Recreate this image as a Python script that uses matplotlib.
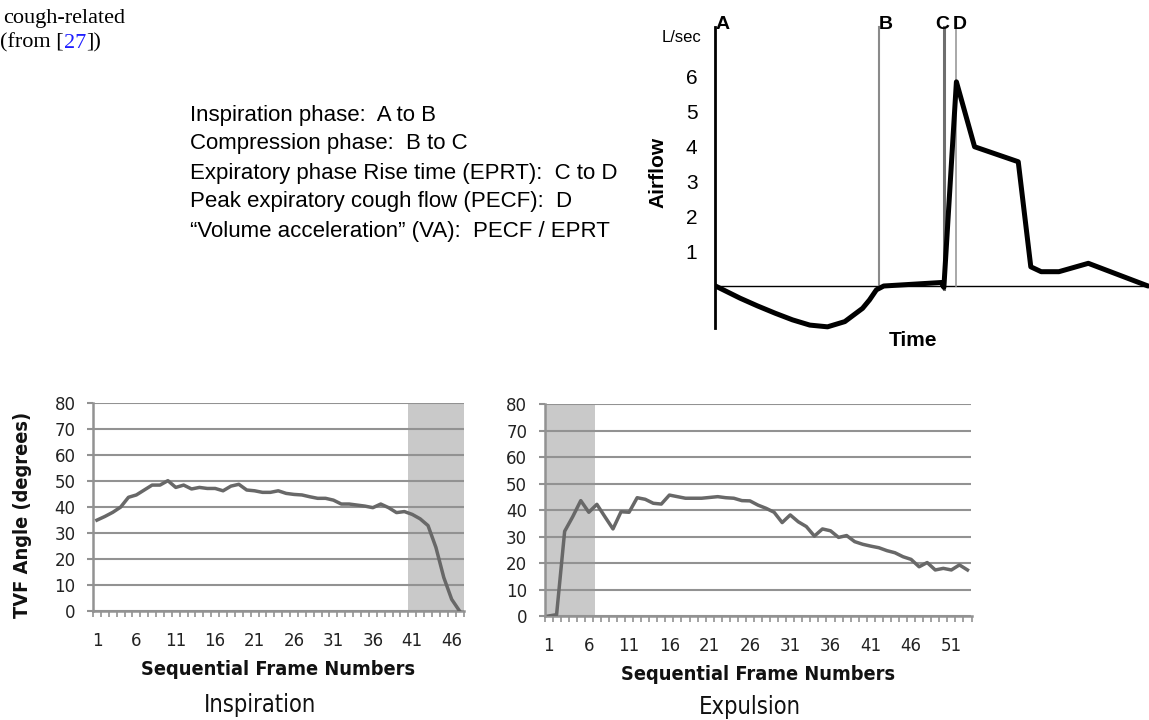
import numpy as np
import matplotlib
matplotlib.use("Agg")
import matplotlib.pyplot as plt

# 数値データ
insp_vals = [35, 36.4, 38, 40, 43.8, 44.7, 46.6, 48.5, 48.5, 50.2,
             47.6, 48.5, 47, 47.6, 47.2, 47.2, 46.3, 48.1, 48.8, 46.6,
             46.3, 45.7, 45.7, 46.3, 45.3, 44.9, 44.7, 44, 43.4, 43.4,
             42.7, 41.2, 41.2, 40.8, 40.4, 39.8, 41.2, 39.8, 37.9, 38.3,
             37.2, 35.5, 32.9, 24.5, 12.9, 4.5, 0]
expu_vals = [0, 0.5, 32, 37.5, 43.6, 39.2, 42.2, 37.5, 32.9, 39.4,
             39.2, 44.7, 44.1, 42.6, 42.3, 45.7, 45.1, 44.5, 44.5, 44.5,
             44.8, 45.1, 44.7, 44.5, 43.6, 43.5, 41.9, 40.7, 39.2, 35.3,
             38.2, 35.6, 33.8, 30.2, 32.9, 32.2, 29.7, 30.4, 28.1, 27.1,
             26.4, 25.8, 24.7, 23.9, 22.4, 21.4, 18.6, 20.2, 17.4, 18.0,
             17.4, 19.3, 17.4]
insp_shade = (40.5, 47.5)
expu_shade = (0.5, 6.8)
insp_ticks = list(range(1, 47, 5))
expu_ticks = list(range(1, 52, 5))

# 咳の気流（模式図）
flow_t = [0, 5.7, 9.7, 13.8, 17.8, 21.8, 25.9, 29.9, 34.0, 35.6, 37.2, 38.9,
          52.2, 52.8, 55.7, 59.9, 70.0, 72.9, 75.3, 79.4, 86.2, 100]
flow_v = [0, -0.35, -0.57, -0.78, -0.97, -1.12, -1.17, -1.02, -0.64, -0.40, -0.11, 0,
          0.1, -0.04, 5.85, 3.99, 3.56, 0.55, 0.41, 0.41, 0.65, 0]
phase_names = ["A", "B", "C", "D"]
phase_times = [0, 37.8, 52.8, 55.7]
flow_ticks = [1, 2, 3, 4, 5, 6]

legend_lines = [
    "Inspiration phase:  A to B",
    "Compression phase:  B to C",
    "Expiratory phase Rise time (EPRT):  C to D",
    "Peak expiratory cough flow (PECF):  D",
    "\u201cVolume acceleration\u201d (VA):  PECF / EPRT",
]

W, H = 1149, 720


def rect(x0, y0, x1, y1):
    # ピクセル座標 -> figure座標
    return [x0 / W, 1 - y1 / H, (x1 - x0) / W, (y1 - y0) / H]


fig = plt.figure(figsize=(W / 100, H / 100), dpi=100)
fig.patch.set_facecolor("white")

# 見出しテキスト
bg = fig.add_axes([0, 0, 1, 1])
bg.axis("off")
bg.set_xlim(0, W)
bg.set_ylim(H, 0)
bg.text(3, 18, "cough-related", family="Liberation Serif", fontsize=16, va="center", ha="left")
t1 = bg.text(0, 43, "(from [", family="Liberation Serif", fontsize=16, va="center", ha="left")
t2 = bg.annotate("27", xy=(1, 0), xycoords=t1, va="bottom", ha="left",
                 family="Liberation Serif", fontsize=16, color="#1f1fff")
bg.annotate("])", xy=(1, 0), xycoords=t2, va="bottom", ha="left",
            family="Liberation Serif", fontsize=16)
for i, line in enumerate(legend_lines):
    bg.text(190, 115 + 29 * i, line, family="Liberation Sans", fontsize=16,
            va="center", ha="left")

# 気流の図
ax0 = fig.add_axes(rect(715.5, 15, 1149, 355))
ax0.set_xlim(0, (1149 - 715.5) / 4.325)
ax0.set_ylim((286 - 355) / 34.9, (286 - 15) / 34.9)
for s in ax0.spines.values():
    s.set_visible(False)
ax0.set_xticks([])
ax0.set_yticks(flow_ticks)
ax0.set_yticklabels([str(v) for v in flow_ticks], family="Liberation Sans", fontsize=15)
ax0.tick_params(axis="y", length=0, pad=13)
top_v = (286 - 26.7) / 34.9
ax0.axhline(0, color="black", lw=1.0)
ax0.plot([0, 0], [top_v, (286 - 328) / 34.9], color="black", lw=2.0, clip_on=False)
ax0.plot([phase_times[1]] * 2, [top_v, 0], color="#8a8a8a", lw=1.5)
ax0.plot([phase_times[2]] * 2, [top_v, -0.1], color="#6e6e6e", lw=2.2)
ax0.plot([phase_times[3]] * 2, [top_v, 0], color="#9a9a9a", lw=1.2)
ax0.plot(flow_t, flow_v, color="black", lw=3.6, solid_joinstyle="round", solid_capstyle="round")
label_off = [1.7, 1.5, -0.4, 0.8]
for name, t, dx in zip(phase_names, phase_times, label_off):
    ax0.text(t + dx, 7.48, name, fontsize=14, fontweight="bold", family="Liberation Sans",
             ha="center", va="center")
ax0.text(-7.75, 7.13, "L/sec", family="Liberation Sans", fontsize=12, ha="center",
         va="center", clip_on=False)
ax0.text(-13.24, 3.24, "Airflow", family="Liberation Sans", fontweight="bold", fontsize=15,
         rotation=90, ha="center", va="center", clip_on=False)
ax0.text(45.76, -1.55, "Time", family="Liberation Sans", fontweight="bold", fontsize=15,
         ha="center", va="center")


# 下の2つのグラフ
def frame_chart(ax, vals, shade, ticks):
    n = len(vals)
    frames = np.arange(1, n + 1)
    ax.set_axisbelow(True)
    ax.axvspan(shade[0], shade[1], color="#c9c9c9", lw=0, zorder=0.2)
    ax.plot(frames, vals, color="#686868", lw=2.5, solid_joinstyle="round", zorder=3)
    ax.set_xlim(0.5, n + 0.5)
    ax.set_ylim(0, 80)
    ax.set_yticks(range(0, 81, 10))
    ax.yaxis.grid(True, color="#929292", lw=1.5)
    ax.set_xticks(ticks)
    ax.set_xticks(np.arange(0.5, n + 1, 1), minor=True)
    for side in ["top", "right"]:
        ax.spines[side].set_visible(False)
    for side in ["left", "bottom"]:
        ax.spines[side].set_color("#929292")
        ax.spines[side].set_linewidth(1.8)
    ax.tick_params(axis="x", which="major", length=0, pad=15, labelsize=12, labelcolor="#222222")
    ax.tick_params(axis="x", which="minor", length=4, width=1.2, color="#929292")
    ax.tick_params(axis="y", length=4.5, width=1.5, color="#929292", pad=8,
                   labelsize=12, labelcolor="#222222")
    ax.set_xlabel("Sequential Frame Numbers", fontsize=14.3, fontweight="bold",
                  fontstretch="condensed", labelpad=7, color="#111111")


ax1 = fig.add_axes(rect(93, 403.3, 463.5, 611))
frame_chart(ax1, insp_vals, insp_shade, insp_ticks)
ax2 = fig.add_axes(rect(544.5, 404.3, 971.5, 616))
frame_chart(ax2, expu_vals, expu_shade, expu_ticks)

bg.text(23, 515, "TVF Angle (degrees)", fontsize=14.3, fontweight="bold", fontstretch="condensed",
        rotation=90, ha="center", va="center", color="#111111")
bg.text(260, 705, "Inspiration", fontsize=17, fontstretch="condensed", ha="center",
        va="center", color="#111111")
bg.text(750, 707, "Expulsion", fontsize=17, fontstretch="condensed", ha="center",
        va="center", color="#111111")

fig.savefig("out.png", dpi=100, facecolor="white")
